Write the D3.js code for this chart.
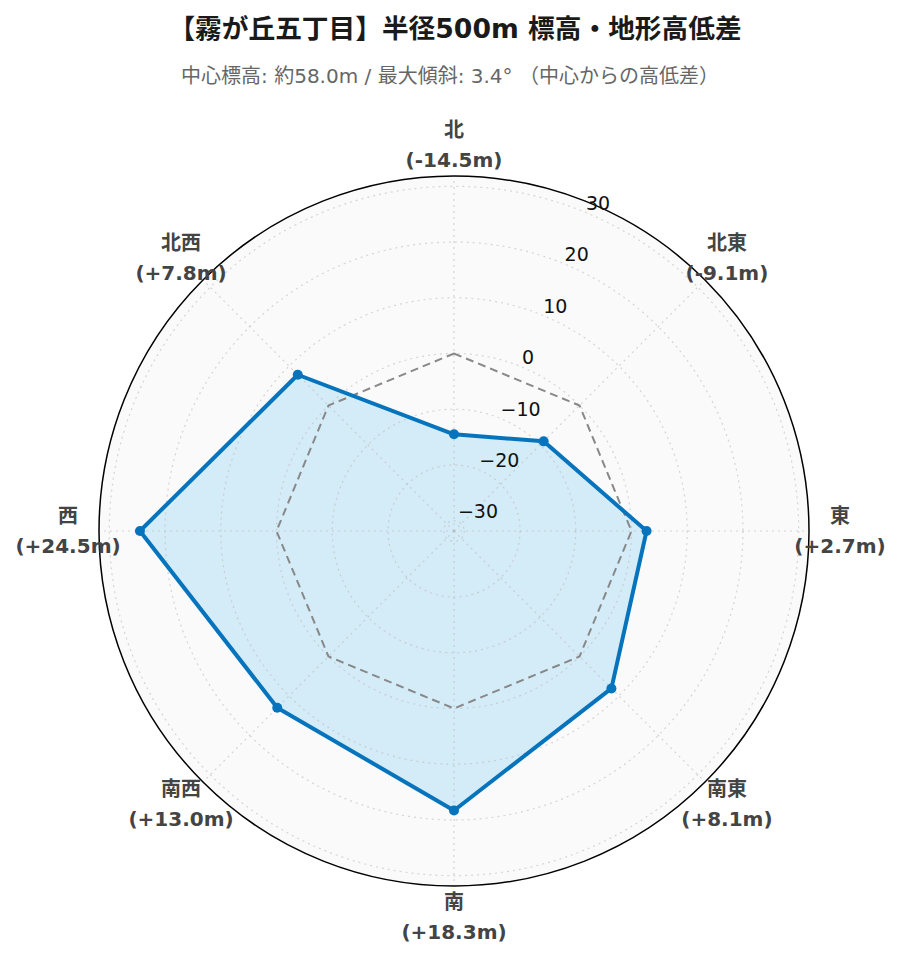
<!DOCTYPE html>
<html><head><meta charset="utf-8">
<script src="https://cdn.jsdelivr.net/npm/d3@7"></script>
<style>
body{margin:0;background:#fff;}
svg{display:block;}
</style></head>
<body>
<svg id="chart" width="900" height="962"></svg>
<script>
const directions = ["北","北東","東","南東","南","南西","西","北西"];
const diffs = [-14.5, -9.1, 2.7, 8.1, 18.3, 13.0, 24.5, 7.8];
const referenceValues = [0,0,0,0,0,0,0,0];
const radialTicks = [-30,-20,-10,0,10,20,30];
const title = "【霧が丘五丁目】半径500m 標高・地形高低差";
const subtitle = "中心標高: 約58.0m / 最大傾斜: 3.4° （中心からの高低差）";

const svg = d3.select("#chart");
const cx = 454, cy = 531, R = 355;
const maxAbs = d3.max(diffs, d => Math.abs(d)) * 1.3;
const r = d3.scaleLinear().domain([-maxAbs, maxAbs]).range([0, R]);
const ang = d3.scaleLinear().domain([0, directions.length]).range([0, 2*Math.PI]);

const fontLatin = "'DejaVu Sans','Noto Sans CJK JP',sans-serif";

svg.append("text").attr("x", 455).attr("y", 38).attr("text-anchor","middle")
  .style("font-family",fontLatin).style("font-weight","bold")
  .style("font-size","26.7px").attr("fill","#1a1a1a").text(title);
svg.append("text").attr("x", 450).attr("y", 83).attr("text-anchor","middle")
  .style("font-family",fontLatin)
  .style("font-size","20px").attr("fill","#666").text(subtitle);

const g = svg.append("g").attr("transform", `translate(${cx},${cy})`);
g.append("circle").attr("r", R).attr("fill", "#fafafa");

// data fill
const radial = d3.lineRadial().angle((d,i)=>ang(i)).radius(d=>r(d)).curve(d3.curveLinearClosed);
g.append("path").attr("d", radial(diffs)).attr("fill","#d3ecf8").attr("stroke","none");

// grid
const grid = g.append("g");
radialTicks.forEach(t => {
  grid.append("circle").attr("r", r(t)).attr("fill","none")
    .attr("stroke","rgba(190,180,180,0.55)").attr("stroke-width",1.2).attr("stroke-dasharray","2,4");
});
directions.forEach((d,i) => {
  const a = ang(i);
  grid.append("line").attr("x1",0).attr("y1",0)
    .attr("x2", R*Math.sin(a)).attr("y2", -R*Math.cos(a))
    .attr("stroke","rgba(190,180,180,0.55)").attr("stroke-width",1.2).attr("stroke-dasharray","2,4");
});
g.append("circle").attr("r", R).attr("fill","none").attr("stroke","#000").attr("stroke-width",1.5);

// reference dashed polygon
g.append("path").attr("d", radial(referenceValues)).attr("fill","none")
  .attr("stroke","#888").attr("stroke-width",2).attr("stroke-dasharray","8,5");

// data line
g.append("path").attr("d", radial(diffs)).attr("fill","none")
  .attr("stroke","#0674bc").attr("stroke-width",4).attr("stroke-linejoin","round");
g.selectAll("circle.pt").data(diffs).enter().append("circle").attr("class","pt")
  .attr("cx",(d,i)=>r(d)*Math.sin(ang(i))).attr("cy",(d,i)=>-r(d)*Math.cos(ang(i)))
  .attr("r",5).attr("fill","#0674bc");

// radial tick labels
const tickAngle = Math.PI/8;
g.selectAll("text.rt").data(radialTicks).enter().append("text").attr("class","rt")
  .attr("x", d => r(d)*Math.sin(tickAngle))
  .attr("y", d => -r(d)*Math.cos(tickAngle) - 3)
  .attr("text-anchor","start")
  .style("font-family",fontLatin).style("font-size","19px").attr("fill","#111")
  .text(d => d < 0 ? "\u2212" + Math.abs(d) : String(d));

// angular labels
const LR = 386;
directions.forEach((d,i) => {
  const a = ang(i);
  const x = LR*Math.sin(a), y = -LR*Math.cos(a);
  const v = diffs[i];
  const lab = "(" + (v >= 0 ? "+" : "") + v.toFixed(1) + "m)";
  const t = g.append("text").attr("text-anchor","middle")
    .style("font-family",fontLatin).style("font-weight","bold").style("font-size","20px").attr("fill","#444");
  t.append("tspan").attr("x", x).attr("y", y - 8).text(d);
  t.append("tspan").attr("x", x).attr("y", y + 22).text(lab);
});
</script>
</body></html>
